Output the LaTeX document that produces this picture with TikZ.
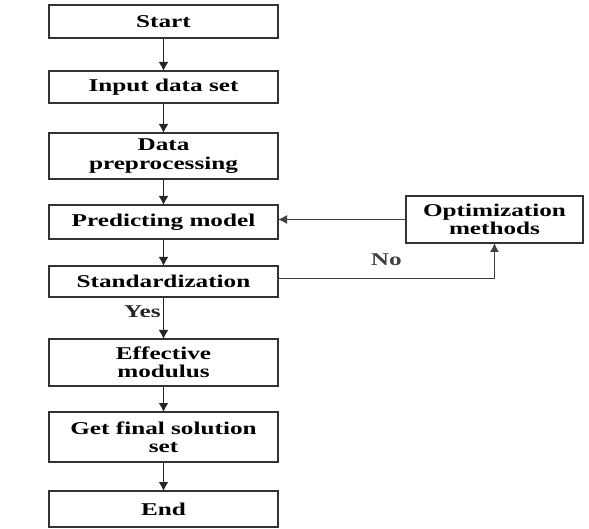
\documentclass[tikz,border=0pt]{standalone}
\usepackage{fontspec}
\setmainfont{Liberation Serif}[FakeStretch=1.4]
\usetikzlibrary{arrows.meta, positioning}

\begin{document}
\begin{tikzpicture}[
    x=1pt, y=1pt,
    node distance=30pt,
    box/.style={rectangle, draw=black!80, line width=1.5pt, outer sep=0pt,
                minimum width=229pt, inner sep=1pt,
                align=center, font=\fontsize{18}{18.5}\selectfont\bfseries},
    lbl/.style={font=\fontsize{18}{18.5}\selectfont\bfseries, inner sep=1pt},
    arr/.style={-{Latex[length=9pt, width=10pt]}, line width=1.8pt, black!85},
    back/.style={-{Latex[length=9pt, width=9pt]}, line width=1.3pt, black!75},
]
\useasboundingbox (0,0) rectangle (589,-529);

%% Main column
\node[box, minimum height=33pt] (start) at (163.5,-21.5) {Start};
\node[box, minimum height=32pt, below=33pt of start]  (input) {Input data set};
\node[box, minimum height=46pt, below=30pt of input]  (prep)  {Data\\preprocessing};
\node[box, minimum height=34pt, below=26pt of prep]   (pred)  {Predicting model};
\node[box, minimum height=31pt, below=27pt of pred]   (std)   {Standardization};
\node[box, minimum height=47pt, below=42pt of std]    (eff)   {Effective\\modulus};
\node[box, minimum height=50pt, below=26pt of eff]    (final) {Get final solution\\set};
\node[box, minimum height=36pt, below=29pt of final]  (stop)  {End};

%% Feedback box
\node[box, minimum width=177pt, minimum height=47pt] (opt) at (494.5,-219.5)
    {Optimization\\methods};

%% Arrows
\draw[arr] (start) -- (input);
\draw[arr] (input) -- (prep);
\draw[arr] (prep)  -- (pred);
\draw[arr] (pred)  -- (std);
\draw[arr] (std)   -- node[lbl, pos=0.35, left=1pt] {Yes} (eff);
\draw[arr] (eff)   -- (final);
\draw[arr] (final) -- (stop);
\draw[back] (std.east) -- ++(0,3) -| node[lbl, pos=0.25, above=11pt] {No} (opt.south);
\draw[back] (opt.west) -- (opt.west -| pred.east);
\end{tikzpicture}
\end{document}
